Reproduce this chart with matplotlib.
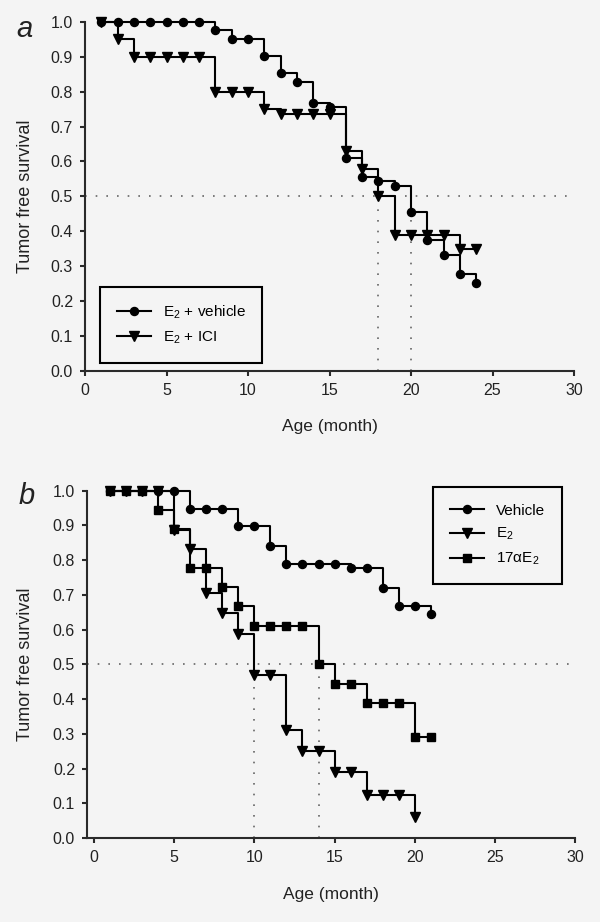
import numpy as np
import matplotlib
matplotlib.use('Agg')
import matplotlib.pyplot as plt

plt.rcParams['font.family'] = ['Liberation Sans', 'DejaVu Sans']
plt.rcParams['mathtext.default'] = 'regular'

## Tumor free survival curves, two panels

# panel a
months_a = np.arange(1, 25)
veh_a = [1, 1, 1, 1, 1, 1, 1, 0.976, 0.951, 0.951, 0.902, 0.854, 0.829, 0.768,
         0.756, 0.61, 0.555, 0.543, 0.529, 0.455, 0.374, 0.333, 0.276, 0.25]
ici_a = [1, 0.95, 0.90, 0.90, 0.90, 0.90, 0.90, 0.80, 0.80, 0.80, 0.75, 0.736,
         0.736, 0.736, 0.736, 0.63, 0.578, 0.5, 0.388, 0.388, 0.388, 0.388, 0.35, 0.35]
median_a = [18, 20]

# panel b
months_veh_b = np.arange(1, 22)
veh_b = [1, 1, 1, 1, 1, 0.947, 0.947, 0.947, 0.897, 0.897, 0.84, 0.789, 0.789,
         0.789, 0.789, 0.778, 0.778, 0.72, 0.667, 0.667, 0.645]
months_e2_b = np.arange(1, 21)
e2_b = [1, 1, 1, 1, 0.886, 0.833, 0.706, 0.647, 0.588, 0.47, 0.47, 0.31, 0.25,
        0.25, 0.19, 0.19, 0.125, 0.125, 0.125, 0.06]
months_a17_b = np.arange(1, 22)
a17_b = [1, 1, 1, 0.944, 0.889, 0.778, 0.778, 0.722, 0.667, 0.611, 0.611, 0.611,
         0.611, 0.5, 0.444, 0.444, 0.389, 0.389, 0.389, 0.29, 0.29]
median_b = [10, 14]

bg = '#f4f4f4'
ink = '#222222'
dot_style = (0, (1, 5.4))
marker_sizes = {'o': 5.8, 'v': 6.8, 's': 6.0}

fig = plt.figure(figsize=(6, 9.22), dpi=100, facecolor=bg)
ax_a = fig.add_axes([0.1417, 0.598, 0.815, 0.3782], facecolor=bg)
ax_b = fig.add_axes([0.145, 0.0911, 0.814, 0.3767], facecolor=bg)


def style_axes(ax, xmin, ylab_x, xlab_y):
    ax.set_xlim(xmin, 30)
    ax.set_ylim(0, 1.0)
    ax.set_xticks(np.arange(0, 31, 5))
    ax.set_yticks(np.arange(0, 1.01, 0.1))
    ax.set_yticklabels(['%.1f' % v for v in np.arange(0, 1.01, 0.1)])
    for side in ['top', 'right']:
        ax.spines[side].set_visible(False)
    for side in ['left', 'bottom']:
        ax.spines[side].set_linewidth(1.5)
        ax.spines[side].set_color('#2a2a2a')
    ax.tick_params(direction='out', length=3.6, width=1.5, color='#2a2a2a',
                   labelsize=11.5, labelcolor=ink, pad=5)
    ax.set_ylabel('Tumor free survival', fontsize=13, color=ink)
    ax.set_xlabel('Age (month)', fontsize=12.5, color=ink)
    ax.yaxis.set_label_coords(ylab_x, 0.5)
    ax.xaxis.set_label_coords(0.5, xlab_y)


def km(ax, t, s, marker, label):
    ax.plot(t, s, drawstyle='steps-post', color='black', lw=1.5, label=label,
            clip_on=False, zorder=3)
    ax.plot(t, s, ls='none', marker=marker, ms=marker_sizes[marker],
            color='black', clip_on=False, zorder=4)


def add_legend(ax, markers, loc, anchor):
    labels = ax.get_legend_handles_labels()[1]
    handles = [plt.Line2D([], [], color='black', lw=1.5, marker=mk,
                          ms=marker_sizes[mk]) for mk in markers]
    leg = ax.legend(handles, labels, loc=loc, bbox_to_anchor=anchor,
                    borderaxespad=0, fontsize=11, handlelength=2.2, borderpad=1.1,
                    labelspacing=0.55, fancybox=False, edgecolor='black',
                    facecolor=bg, framealpha=1)
    leg.get_frame().set_linewidth(1.5)


# ---- panel a
style_axes(ax_a, 0, -0.104, -0.139)
ax_a.axhline(0.5, color='#666666', lw=1.2, ls=dot_style, zorder=1)
for m in median_a:
    ax_a.plot([m, m], [0, 0.5], color='#666666', lw=1.2, ls=dot_style, zorder=1)
km(ax_a, months_a, veh_a, 'o', 'E$_2$ + vehicle')
km(ax_a, months_a, ici_a, 'v', 'E$_2$ + ICI')
add_legend(ax_a, ['o', 'v'], 'lower left', (0.031, 0.023))
ax_a.text(-0.123, 0.98, 'a', transform=ax_a.transAxes, fontsize=21,
          style='italic', ha='center', va='center', color=ink)

# ---- panel b
style_axes(ax_b, -0.42, -0.108, -0.141)
ax_b.axhline(0.5, color='#666666', lw=1.2, ls=dot_style, zorder=1)
for m in median_b:
    ax_b.plot([m, m], [0, 0.5], color='#666666', lw=1.2, ls=dot_style, zorder=1)
km(ax_b, months_veh_b, veh_b, 'o', 'Vehicle')
km(ax_b, months_e2_b, e2_b, 'v', 'E$_2$')
km(ax_b, months_a17_b, a17_b, 's', '17\u03b1E$_2$')
add_legend(ax_b, ['o', 'v', 's'], 'upper right', (0.972, 1.011))
ax_b.text(-0.123, 0.985, 'b', transform=ax_b.transAxes, fontsize=21,
          style='italic', ha='center', va='center', color=ink)

fig.savefig('out.png', dpi=100, facecolor=bg)
